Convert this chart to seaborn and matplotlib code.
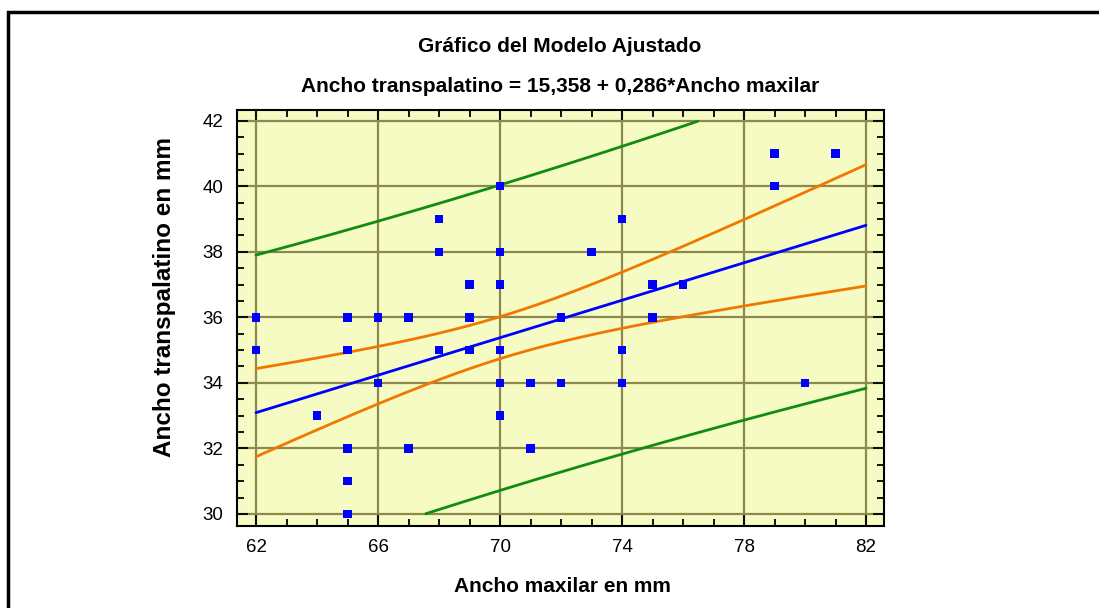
import numpy as np
import pandas as pd
import seaborn as sns
import matplotlib
matplotlib.use("Agg")
import matplotlib.pyplot as plt
from matplotlib.patches import Rectangle
from matplotlib.ticker import MultipleLocator

# ---- data ----
ancho_maxilar = [62, 62, 64, 65, 65, 65, 65, 65, 66, 66, 67, 67,
                 68, 68, 68, 69, 69, 69, 70, 70, 70, 70, 70, 70,
                 71, 71, 72, 72, 73, 74, 74, 74, 75, 75, 76, 79, 79, 80, 81]
ancho_transpalatino = [36, 35, 33, 36, 35, 32, 31, 30, 36, 34, 36, 32,
                       39, 38, 35, 37, 36, 35, 40, 38, 37, 35, 34, 33,
                       34, 32, 36, 34, 38, 39, 35, 34, 37, 36, 37, 41, 40, 34, 41]

# fitted model (from the subtitle) and interval statistics (estimated)
intercept = 15.358
slope = 0.286
n_obs = 52
x_mean = 70.1
sxx = 1000.0
resid_sd = 2.30
t_crit = 2.008

x_ticks = [62, 66, 70, 74, 78, 82]
y_ticks = [30, 32, 34, 36, 38, 40, 42]

title1 = "Gráfico del Modelo Ajustado"
title2 = "Ancho transpalatino = 15,358 + 0,286*Ancho maxilar"
xlabel = "Ancho maxilar en mm"
ylabel = "Ancho transpalatino en mm"

# ---- build curves ----
xs = np.linspace(x_ticks[0], x_ticks[-1], 400)
fit = intercept + slope * xs
conf = t_crit * resid_sd * np.sqrt(1.0 / n_obs + (xs - x_mean) ** 2 / sxx)
pred = t_crit * resid_sd * np.sqrt(1.0 + 1.0 / n_obs + (xs - x_mean) ** 2 / sxx)
names = ["fit", "conf_up", "conf_lo", "pred_up", "pred_lo"]
ys = [fit, fit + conf, fit - conf, fit + pred, fit - pred]
frames = []
for nm, yv in zip(names, ys):
    keep = (yv >= y_ticks[0]) & (yv <= y_ticks[-1])
    frames.append(pd.DataFrame({"x": xs[keep], "y": yv[keep], "curve": nm}))
curves = pd.concat(frames, ignore_index=True)
pts = pd.DataFrame({"x": ancho_maxilar, "y": ancho_transpalatino})

sns.set_theme(style="white")
plt.rcParams["font.family"] = ["Liberation Sans", "DejaVu Sans"]
plt.rcParams["text.color"] = "black"
plt.rcParams["axes.labelcolor"] = "black"
plt.rcParams["xtick.color"] = "black"
plt.rcParams["ytick.color"] = "black"

fig = plt.figure(figsize=(10.99, 6.08), dpi=100)
ax = fig.add_axes([237 / 1099, 1 - 526 / 608, (884 - 237) / 1099, (526 - 110) / 608])
ax.set_facecolor("#F5FBC2")

palette = {"fit": "#0000FF", "conf_up": "#F07800", "conf_lo": "#F07800",
           "pred_up": "#118C11", "pred_lo": "#118C11"}
sns.lineplot(data=curves, x="x", y="y", hue="curve", palette=palette,
             units="curve", estimator=None, linewidth=2.0, legend=False, ax=ax,
             zorder=3, sort=False)
sns.scatterplot(data=pts, x="x", y="y", marker="s", s=36, color="#0000FF",
                edgecolor="none", linewidth=0, ax=ax, zorder=4)

ax.set_xlim(61.377, 82.59)
ax.set_ylim(29.63, 42.33)
ax.set_xticks(x_ticks)
ax.set_yticks(y_ticks)
ax.xaxis.set_minor_locator(MultipleLocator(1))
ax.yaxis.set_minor_locator(MultipleLocator(0.5))
ax.grid(True, which="major", color="#8C8850", linewidth=1.6, zorder=1)
ax.set_axisbelow(True)
ax.tick_params(which="both", direction="in", top=True, right=True,
               bottom=True, left=True, color="black", labelcolor="black", width=1.3)
ax.tick_params(which="major", length=8, labelsize=13.5, pad=10)
ax.tick_params(which="minor", length=5)
ax.tick_params(axis="x", which="major", pad=9)
for sp in ax.spines.values():
    sp.set_visible(True)
    sp.set_color("black")
    sp.set_linewidth(1.5)

ax.set_xlabel(xlabel, fontsize=15, fontweight="bold", va="center", color="black")
ax.set_ylabel(ylabel, fontsize=17.5, fontweight="bold", va="center", color="black")
ax.xaxis.set_label_coords((562 - 237) / 647, (526 - 586) / 416)
ax.yaxis.set_label_coords((164 - 237) / 647, (526 - 297) / 416)

fig.text(560 / 1099, 1 - 46 / 608, title1, ha="center", va="center",
         fontsize=15, fontweight="bold", color="black")
fig.text(560 / 1099, 1 - 86 / 608, title2, ha="center", va="center",
         fontsize=15, fontweight="bold", color="black")

fig.patches.append(Rectangle((8 / 1099, -0.1), 1.2, 1 - 12 / 608 + 0.1,
                             transform=fig.transFigure, fill=False,
                             edgecolor="black", linewidth=2.5))

fig.savefig("out.png", dpi=100)
